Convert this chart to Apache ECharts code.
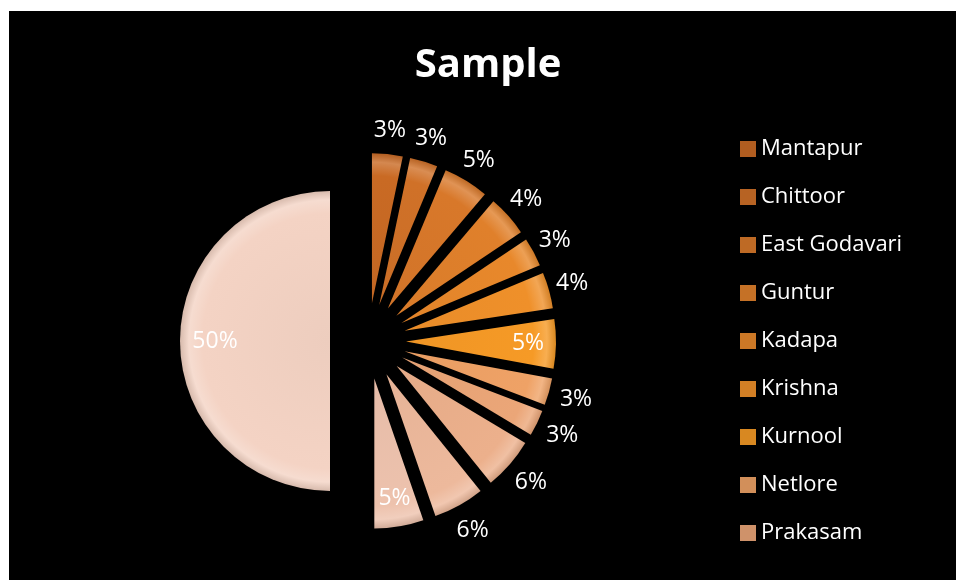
<!DOCTYPE html>
<html>
<head>
<meta charset="utf-8">
<script src="https://cdn.jsdelivr.net/npm/echarts@6/dist/echarts.min.js"></script>
<style>
html, body { margin: 0; padding: 0; background: #fff; }
#chart { position: absolute; left: 9px; top: 11px; width: 947px; height: 569px; }
</style>
</head>
<body>
<div id="chart"></div>
<script>
// districts (last slice is the total, drawn as the left half)
var districts = ['Mantapur', 'Chittoor', 'East Godavari', 'Guntur', 'Kadapa', 'Krishna', 'Kurnool',
    'Netlore', 'Prakasam', 'Srikakulam', 'Visakhapatnam', 'Vizianagaram', 'Total'];
var values = [3.3, 3.0, 4.9, 4.4, 3.1, 3.9, 5.3, 2.9, 2.8, 5.6, 5.5, 5.3, 50];
var legendNames = ['Mantapur', 'Chittoor', 'East Godavari', 'Guntur', 'Kadapa', 'Krishna', 'Kurnool', 'Netlore', 'Prakasam'];

var colors = ['#c96a24', '#d07128', '#d8782a', '#e0802b', '#e8882b', '#ef902a', '#f69a26',
    '#efa266', '#eba678', '#ecb08c', '#edb99c', '#edc2ad', '#f4d3c4'];
var insideLabels = ['Kurnool', 'Vizianagaram', 'Total'];

var CX = 359, CY = 330, R = 150;

function mix(hex, target, t) {
    var n = parseInt(hex.slice(1), 16);
    var r = n >> 16, g = (n >> 8) & 255, b = n & 255;
    r = Math.round(r + (target - r) * t);
    g = Math.round(g + (target - g) * t);
    b = Math.round(b + (target - b) * t);
    return 'rgb(' + r + ',' + g + ',' + b + ')';
}

function bevel(c) {
    return {
        type: 'radial', x: CX, y: CY, r: R, global: true,
        colorStops: [
            { offset: 0, color: mix(c, 0, 0.03) },
            { offset: 0.85, color: c },
            { offset: 0.94, color: mix(c, 255, 0.2) },
            { offset: 1, color: mix(c, 0, 0.12) }
        ]
    };
}

var pieData = [];
for (var i = 0; i < districts.length; i++) {
    var inside = insideLabels.indexOf(districts[i]) >= 0;
    pieData.push({
        name: districts[i],
        value: values[i],
        selected: true,
        itemStyle: { color: bevel(colors[i]) },
        labelLine: { length: inside ? (districts[i] == 'Total' ? -35 : -28) : (i > 6 ? 28 : 24) }
    });
}

var myChart = echarts.init(document.getElementById('chart'));
var option = {
    backgroundColor: '#000',
    animation: false,
    title: {
        text: 'Sample',
        left: 474,
        textAlign: 'center',
        top: 30,
        textStyle: { color: '#fff', fontFamily: 'Open Sans', fontWeight: 'bold', fontSize: 40 }
    },
    legend: {
        data: legendNames,
        orient: 'vertical',
        left: 726,
        top: 122,
        itemWidth: 16,
        itemHeight: 16,
        itemGap: 26,
        icon: 'rect',
        textStyle: { color: '#fff', fontFamily: 'Open Sans', fontSize: 22 }
    },
    series: [{
        type: 'pie',
        center: [CX, CY],
        radius: [0, R],
        startAngle: 90,
        clockwise: true,
        selectedMode: 'multiple',
        selectedOffset: 38,
        avoidLabelOverlap: false,
        percentPrecision: 0,
        data: pieData,
        label: {
            show: true,
            position: 'outside',
            formatter: '{d}%',
            color: '#fff',
            fontFamily: 'Open Sans',
            fontSize: 23,
            distanceToLabelLine: 0
        },
        labelLine: { show: false, length2: 0 },
        labelLayout: function () {
            return { align: 'center', verticalAlign: 'middle' };
        },
        emphasis: { disabled: true }
    }]
};
myChart.setOption(option);
</script>
</body>
</html>
